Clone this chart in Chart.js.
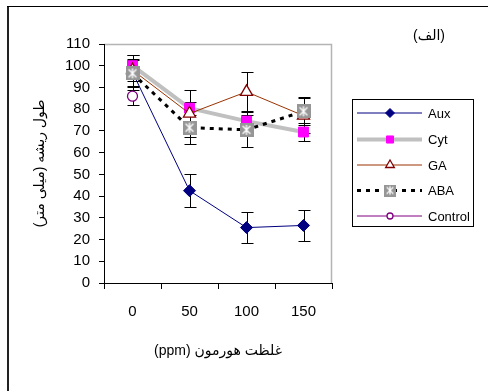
<!DOCTYPE html>
<html><head><meta charset="utf-8">
<script src="https://cdn.jsdelivr.net/npm/chart.js@4/dist/chart.umd.min.js"></script>
<style>html,body{margin:0;padding:0;background:#fff;overflow:hidden}</style>
</head><body>
<canvas id="c" width="488" height="391" dir="rtl" style="display:block;width:488px;height:391px"></canvas>
<script>
const categories = ['0', '50', '100', '150'];
const seriesNames = ['Aux', 'Cyt', 'GA', 'ABA', 'Control'];
const aux = [97, 42.5, 25.5, 26.5];
const cyt = [100, 80.5, 74.5, 69.5];
const ga = [98, 78, 88, 77];
const aba = [96.5, 71.5, 70.5, 79];
const control = [86, null, null, null];
const auxErr = [8, 7.5, 7, 7];
const cytErr = [5, 3, 3, 4];
const gaErr = [5, 11, 9, 8];
const abaErr = [6, 7.5, 8, 6.5];
const controlErr = [4, null, null, null];
const yMin = 0, yMax = 110, yStep = 10;
const xTitle = 'غلظت هورمون (ppm)';
const yTitle = 'طول ریشه (میلی متر)';
const panelLabel = '(الف)';

const FONT = "'Liberation Sans', Arial, 'DejaVu Sans', sans-serif";

function makeAbaMarker(size) {
  const c = document.createElement('canvas');
  c.width = size; c.height = size;
  const g = c.getContext('2d');
  g.fillStyle = '#969696';
  g.fillRect(0, 0, size, size);
  g.strokeStyle = '#ffffff';
  g.lineWidth = 1.3;
  const m = size / 2, r = size * 0.28;
  g.beginPath();
  g.moveTo(m - r, m - r); g.lineTo(m + r, m + r);
  g.moveTo(m + r, m - r); g.lineTo(m - r, m + r);
  g.moveTo(m, m - r - 1); g.lineTo(m, m + r + 1);
  g.stroke();
  return c;
}
const abaMarker = makeAbaMarker(14);
const abaMarkerSmall = makeAbaMarker(12);

const datasets = [
  {label: seriesNames[0], data: aux, err: auxErr, borderColor: '#000080', backgroundColor: '#000080', borderWidth: 1,
   pointStyle: 'rectRot', pointRadius: 6, pointBorderColor: '#000080', pointBackgroundColor: '#000080', order: 5,
   legendRadius: 4.5},
  {label: seriesNames[1], data: cyt, err: cytErr, borderColor: '#c0c0c0', backgroundColor: '#ff00ff', borderWidth: 4,
   pointStyle: 'rect', pointRadius: 7, pointBorderColor: '#ff00ff', pointBackgroundColor: '#ff00ff', pointBorderWidth: 1, order: 4,
   legendRadius: 5},
  {label: seriesNames[2], data: ga, err: gaErr, borderColor: '#993300', backgroundColor: '#ffffff', borderWidth: 1,
   pointStyle: 'triangle', pointRadius: 7, pointBorderColor: '#800000', pointBackgroundColor: '#ffffff', pointBorderWidth: 1.3, order: 3,
   legendRadius: 5},
  {label: seriesNames[3], data: aba, err: abaErr, borderColor: '#000000', backgroundColor: '#969696', borderWidth: 3, borderDash: [4, 5],
   pointStyle: abaMarker, legendStyle: abaMarkerSmall, pointRadius: 7, order: 2, legendRadius: 6},
  {label: seriesNames[4], data: control, err: controlErr, borderColor: '#800080', backgroundColor: '#ffffff', borderWidth: 1,
   pointStyle: 'circle', pointRadius: 5, pointBorderColor: '#800080', pointBackgroundColor: '#ffffff', pointBorderWidth: 1.3, order: 1,
   legendRadius: 3}
];
datasets.forEach(d => { d.tension = 0; d.fill = false; d.spanGaps = false; d.pointHoverRadius = d.pointRadius; });

const framePlugin = {
  id: 'frame',
  beforeDraw(chart) {
    const ctx = chart.ctx;
    ctx.save();
    ctx.fillStyle = '#fff';
    ctx.fillRect(0, 0, chart.width, chart.height);
    ctx.strokeStyle = '#222';
    ctx.lineWidth = 2;
    ctx.beginPath(); ctx.moveTo(8, 6); ctx.lineTo(8, chart.height); ctx.stroke();
    ctx.lineWidth = 1;
    ctx.strokeStyle = '#000';
    ctx.beginPath(); ctx.moveTo(7, 6.5); ctx.lineTo(chart.width, 6.5); ctx.stroke();
    const a = chart.chartArea;
    ctx.strokeStyle = '#b4b4b4';
    ctx.lineWidth = 1.5;
    ctx.beginPath();
    ctx.moveTo(a.left, a.top + 0.5); ctx.lineTo(a.right - 0.5, a.top + 0.5); ctx.lineTo(a.right - 0.5, a.bottom);
    ctx.stroke();
    ctx.restore();
  },
  beforeDatasetsDraw(chart) {
    const ctx = chart.ctx, xs = chart.scales.x, ys = chart.scales.y;
    ctx.save();
    ctx.strokeStyle = '#000';
    ctx.lineWidth = 1;
    chart.data.datasets.forEach(ds => {
      ds.data.forEach((v, j) => {
        const e = ds.err[j];
        if (v == null || e == null) return;
        const x = Math.round(xs.getPixelForValue(j)) + 0.5;
        const yt = Math.round(ys.getPixelForValue(v + e)) + 0.5;
        const yb = Math.round(ys.getPixelForValue(v - e)) + 0.5;
        ctx.beginPath();
        ctx.moveTo(x, yt); ctx.lineTo(x, yb);
        ctx.moveTo(x - 6, yt); ctx.lineTo(x + 6, yt);
        ctx.moveTo(x - 6, yb); ctx.lineTo(x + 6, yb);
        ctx.stroke();
      });
    });
    ctx.restore();
  },
  afterDraw(chart) {
    const ctx = chart.ctx;
    ctx.save();
    // legend box
    const bx = 352, by = 99, bw = 121, bh = 127;
    ctx.strokeStyle = '#000'; ctx.lineWidth = 1;
    ctx.strokeRect(bx + 0.5, by + 0.5, bw, bh);
    const rows = [113, 139.5, 165, 190.5, 216];
    chart.data.datasets.forEach((ds, i) => {
      const y = rows[i];
      ctx.save();
      ctx.strokeStyle = ds.borderColor;
      ctx.lineWidth = ds.borderWidth;
      ctx.setLineDash(ds.borderDash || []);
      ctx.beginPath(); ctx.moveTo(357, y); ctx.lineTo(422, y); ctx.stroke();
      ctx.restore();
      ctx.save();
      ctx.fillStyle = ds.pointBackgroundColor || ds.backgroundColor;
      ctx.strokeStyle = ds.pointBorderColor || ds.borderColor;
      ctx.lineWidth = ds.pointBorderWidth || 1;
      Chart.helpers.drawPoint(ctx, {pointStyle: ds.legendStyle || ds.pointStyle, radius: ds.legendRadius, rotation: 0, borderWidth: ds.pointBorderWidth || 1}, 390, y);
      ctx.restore();
      ctx.fillStyle = '#000';
      ctx.font = '13px ' + FONT;
      ctx.textAlign = 'left';
      ctx.textBaseline = 'middle';
      ctx.fillText(ds.label, 428, y + 1);
    });
    ctx.font = '14px ' + FONT;
    ctx.textAlign = 'center';
    ctx.textBaseline = 'middle';
    ctx.fillText(panelLabel, 429, 36);
    ctx.restore();
  }
};

new Chart(document.getElementById('c'), {
  type: 'line',
  data: {labels: categories, datasets: datasets},
  options: {
    responsive: false,
    animation: false,
    events: [],
    layout: {padding: {left: 32, right: 156, top: 44, bottom: 31}},
    plugins: {legend: {display: false}, tooltip: {enabled: false}},
    scales: {
      x: {
        type: 'category',
        offset: true,
        grid: {display: true, drawOnChartArea: false, drawTicks: true, tickLength: 6, color: '#000', offset: true},
        border: {display: true, color: '#000', width: 1},
        ticks: {color: '#000', font: {family: FONT, size: 15}, padding: 14, maxRotation: 0},
        title: {display: true, text: xTitle, color: '#000', font: {family: FONT, size: 14}, padding: 0},
        afterFit(s) { s.height = 77; }
      },
      y: {
        min: yMin, max: yMax,
        grid: {display: true, drawOnChartArea: false, drawTicks: true, tickLength: 5, color: '#000'},
        border: {display: true, color: '#000', width: 1},
        ticks: {stepSize: yStep, color: '#000', font: {family: FONT, size: 15}, padding: 9},
        title: {display: true, text: yTitle, color: '#000', font: {family: FONT, size: 14}, padding: 0},
        afterFit(s) { s.width = 72; }
      }
    }
  },
  plugins: [framePlugin]
});
</script>
</body></html>
